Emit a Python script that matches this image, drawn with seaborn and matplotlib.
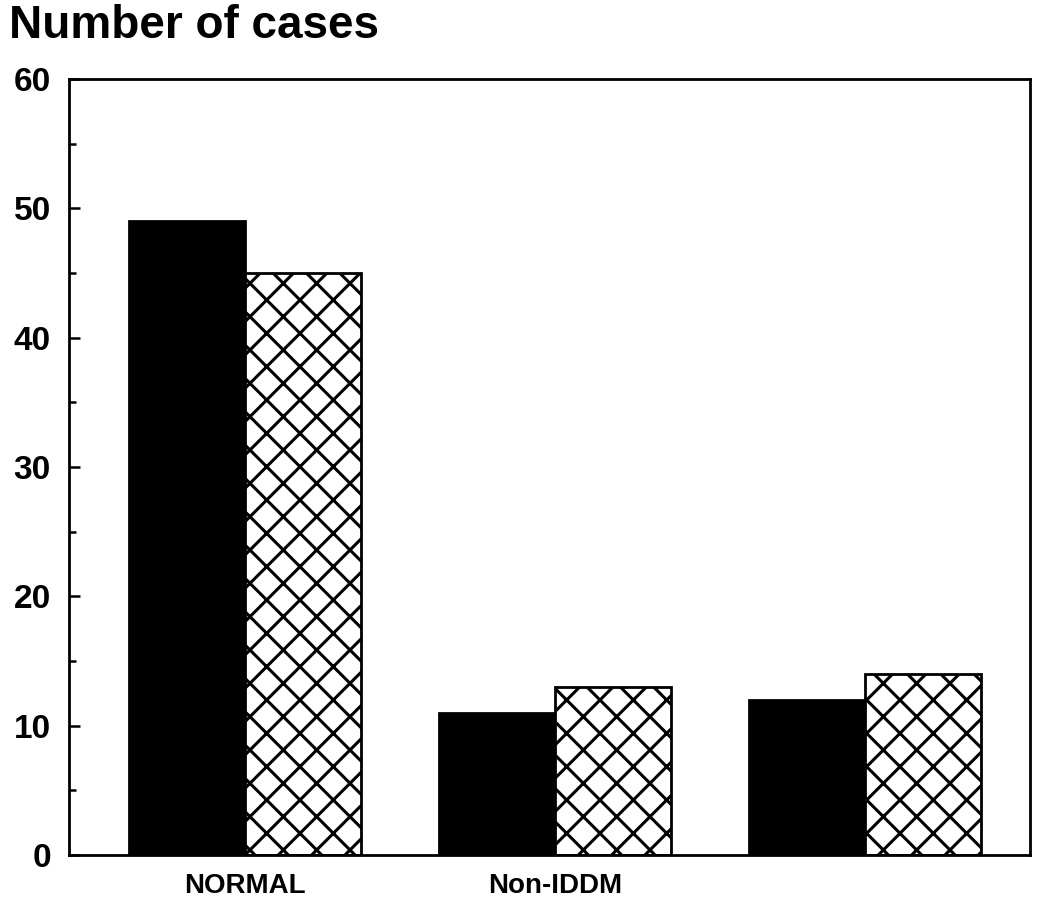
import pandas as pd
import matplotlib.pyplot as plt
import seaborn as sns

# data
groups = ["NORMAL", "Non-IDDM", "Group 3"]
tick_labels = ["NORMAL", "Non-IDDM", ""]
series = ["solid", "hatched"]
solid_values = [49, 11, 12]
hatched_values = [45, 13, 14]

df = pd.DataFrame({
    "group": groups * 2,
    "series": [series[0]] * 3 + [series[1]] * 3,
    "cases": solid_values + hatched_values,
})

sns.set_style("white")
plt.rcParams["font.family"] = ["Liberation Sans", "DejaVu Sans"]
plt.rcParams["font.weight"] = "bold"
plt.rcParams["text.color"] = "black"
plt.rcParams["xtick.color"] = "black"
plt.rcParams["ytick.color"] = "black"
plt.rcParams["hatch.linewidth"] = 2.2
plt.rcParams["hatch.color"] = "black"

fig = plt.figure(figsize=(10.5, 9.18), dpi=100)
ax = fig.add_axes([0.0657, 0.0686, 0.9153, 0.8454])

sns.barplot(data=df, x="group", y="cases", hue="series", order=groups,
            hue_order=series, palette=["black", "white"], width=0.75,
            edgecolor="black", linewidth=2, saturation=1, ax=ax, legend=False)

# second series drawn with cross hatching
for bar in ax.containers[1]:
    bar.set_hatch("x")

ax.set_xlim(-0.568, 2.532)
ax.set_ylim(0, 60)
ax.set_yticks(range(0, 61, 10))
ax.set_yticks(range(5, 60, 10), minor=True)
ax.set_xticks(range(3))
ax.set_xticklabels(tick_labels, fontsize=20, fontweight="bold")
ax.tick_params(axis="y", which="major", direction="in", length=8, width=1.8,
               labelsize=24, pad=13, left=True)
ax.tick_params(axis="y", which="minor", direction="in", length=5, width=1.8,
               left=True)
ax.tick_params(axis="x", length=0, pad=13)
for lab in ax.get_yticklabels():
    lab.set_fontweight("bold")
for sp in ax.spines.values():
    sp.set_linewidth(2)
    sp.set_color("black")
ax.set_xlabel("")
ax.set_ylabel("")

fig.text(0.009, 0.972, "Number of cases", fontsize=33, fontweight="bold",
         va="center", ha="left")

fig.savefig("out.png", dpi=100)
